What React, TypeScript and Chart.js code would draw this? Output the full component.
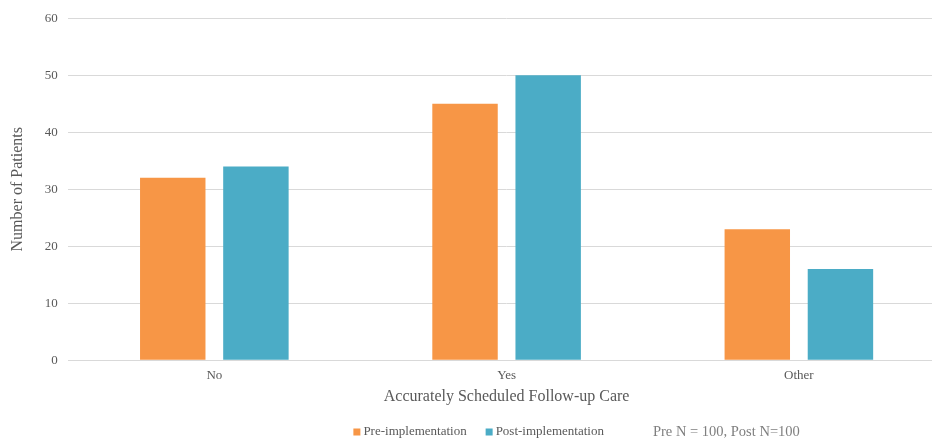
import React, { useEffect, useRef } from "react";
import { Chart, registerables } from "chart.js";

Chart.register(...registerables);

const FONT = '"Liberation Serif", "Times New Roman", serif';
const TEXT_COLOR = "#595959";
const NOTE_COLOR = "#7F7F7F";
const GRID_COLOR = "#D9D9D9";

const categories = ["No", "Yes", "Other"];
const preImplementation = [32, 45, 23];
const postImplementation = [34, 50, 16];
const seriesLabels = ["Pre-implementation", "Post-implementation"];
const seriesColors = ["#F79646", "#4BACC6"];
const yTitle = "Number of Patients";
const xTitle = "Accurately Scheduled Follow-up Care";
const legendNote = "Pre N = 100, Post N=100";

// Legend row under the x-axis title: swatches, series names, then the sample-size note
const bottomLegend = {
  id: "bottomLegend",
  afterDraw(chart: any) {
    const ctx = chart.ctx as CanvasRenderingContext2D;
    const area = chart.chartArea;
    ctx.save();
    ctx.textBaseline = "middle";
    ctx.textAlign = "left";
    const y = chart.scales.x.bottom + 26;
    const box = 7;
    const boxGap = 3;
    const itemGap = 19;
    const noteGap = 49;
    const labelFont = `13px ${FONT}`;
    const noteFont = `14.5px ${FONT}`;
    const items = chart.data.datasets.map((d: any) => ({
      label: d.label as string,
      color: d.backgroundColor as string,
    }));
    ctx.font = labelFont;
    let total = 0;
    items.forEach((it: any, i: number) => {
      total += box + boxGap + ctx.measureText(it.label).width;
      if (i < items.length - 1) total += itemGap;
    });
    ctx.font = noteFont;
    total += noteGap + ctx.measureText(legendNote).width;
    const center = (area.left + area.right) / 2 + 70;
    let x = center - total / 2;
    ctx.font = labelFont;
    items.forEach((it: any, i: number) => {
      ctx.fillStyle = it.color;
      ctx.fillRect(x, y - box / 2, box, box);
      x += box + boxGap;
      ctx.fillStyle = TEXT_COLOR;
      ctx.fillText(it.label, x, y);
      x += ctx.measureText(it.label).width;
      if (i < items.length - 1) x += itemGap;
    });
    x += noteGap;
    ctx.font = noteFont;
    ctx.fillStyle = NOTE_COLOR;
    ctx.fillText(legendNote, x, y);
    ctx.restore();
  },
};

export default function App() {
  const canvasRef = useRef<HTMLCanvasElement | null>(null);

  useEffect(() => {
    if (!canvasRef.current) return;
    const chart = new Chart(canvasRef.current, {
      type: "bar",
      data: {
        labels: categories,
        datasets: [
          {
            label: seriesLabels[0],
            data: preImplementation,
            backgroundColor: seriesColors[0],
            categoryPercentage: 0.569,
            barPercentage: 0.787,
          },
          {
            label: seriesLabels[1],
            data: postImplementation,
            backgroundColor: seriesColors[1],
            categoryPercentage: 0.569,
            barPercentage: 0.787,
          },
        ],
      },
      options: {
        animation: false,
        responsive: true,
        maintainAspectRatio: false,
        layout: { padding: { left: 4, top: 9, right: 5, bottom: 33 } },
        plugins: {
          legend: { display: false },
          tooltip: { enabled: false },
        },
        scales: {
          x: {
            grid: { display: false, drawTicks: false },
            border: { display: true, color: GRID_COLOR, width: 1 },
            ticks: { color: TEXT_COLOR, font: { family: FONT, size: 13 }, padding: 8 },
            title: {
              display: true,
              text: xTitle,
              color: TEXT_COLOR,
              font: { family: FONT, size: 16 },
              padding: { top: -5, bottom: 0 },
            },
          },
          y: {
            min: 0,
            max: 60,
            grid: { color: GRID_COLOR, drawTicks: false },
            border: { display: false },
            ticks: {
              stepSize: 10,
              color: TEXT_COLOR,
              font: { family: FONT, size: 13 },
              padding: 10.5,
            },
            title: {
              display: true,
              text: yTitle,
              color: TEXT_COLOR,
              font: { family: FONT, size: 16 },
              padding: { top: 4, bottom: 7 },
            },
          },
        },
      },
      plugins: [bottomLegend],
    });
    return () => chart.destroy();
  }, []);

  return (
    <div
      style={{
        position: "fixed",
        left: 0,
        top: 0,
        width: 932,
        height: 439,
        overflow: "hidden",
        background: "#fff",
      }}
    >
      <div style={{ position: "relative", width: 950, height: 439 }}>
        <canvas ref={canvasRef} />
      </div>
    </div>
  );
}
